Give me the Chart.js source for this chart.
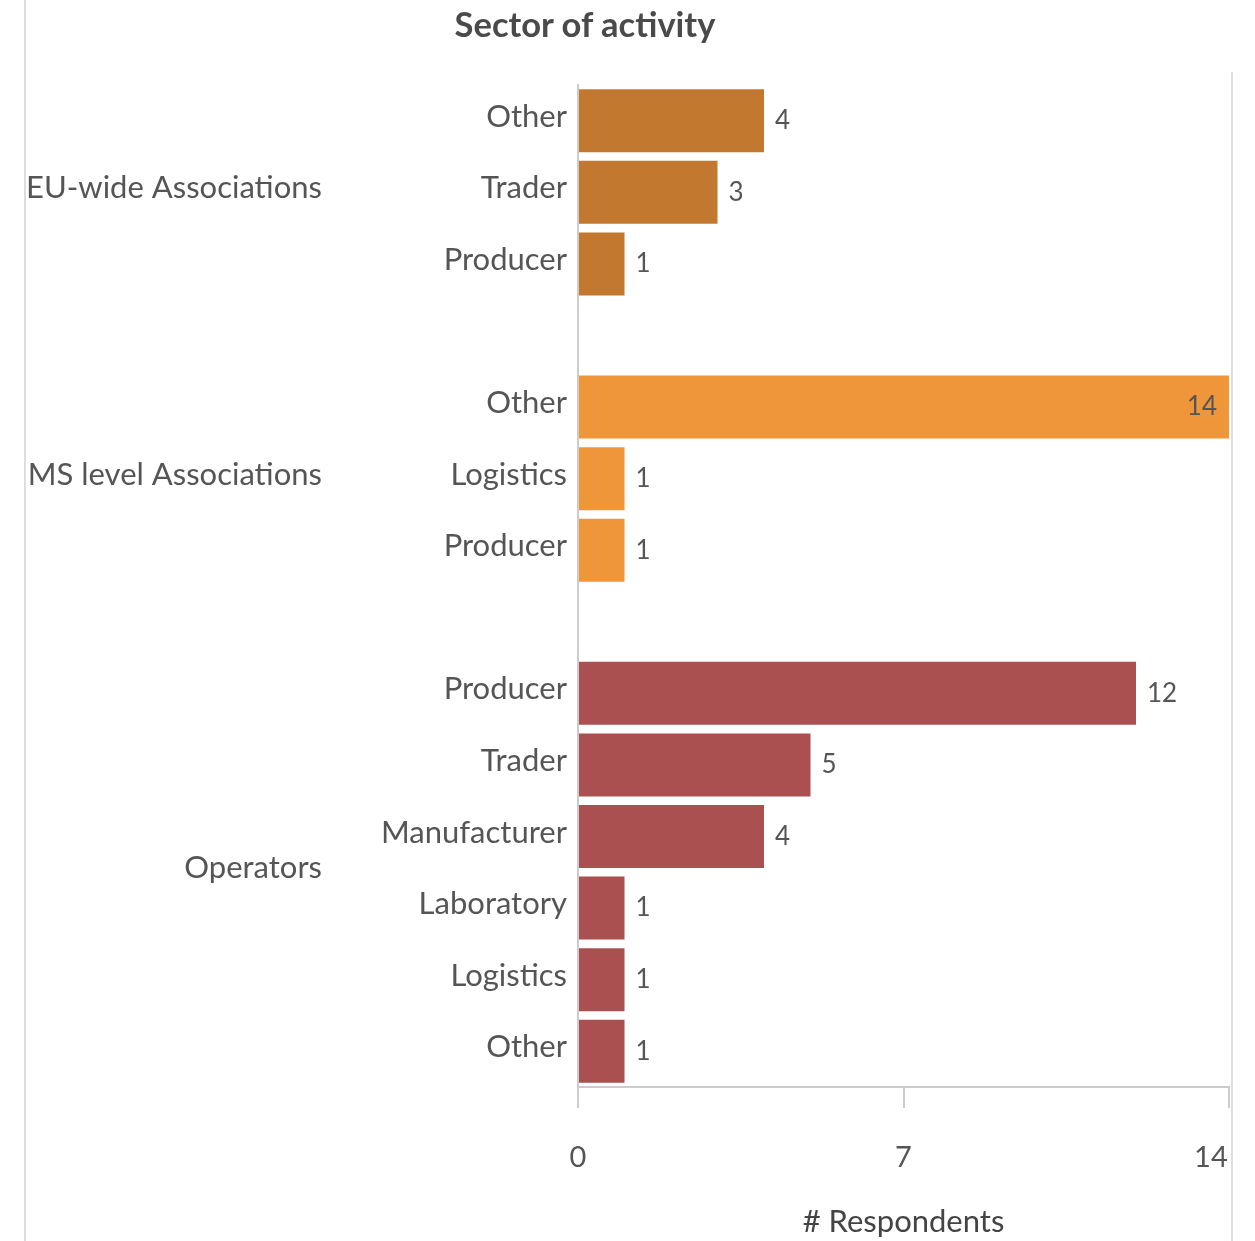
<!DOCTYPE html>
<html>
<head>
<meta charset="utf-8">
<script src="https://cdn.jsdelivr.net/npm/chart.js@4"></script>
<style>
  html, body { margin: 0; padding: 0; background: #fff; }
  #wrap { position: relative; width: 1255px; height: 1241px; }
  #title {
    position: absolute; left: 435px; top: 3px; width: 300px; text-align: center;
    font-family: Lato, sans-serif; font-weight: bold; font-size: 34.5px; color: #4a4a4a;
    white-space: nowrap;
  }
  .edge { position: absolute; background: #ddd; width: 2px; }
</style>
</head>
<body>
<div id="wrap">
  <div class="edge" style="left:24px; top:0; height:1241px;"></div>
  <div class="edge" style="left:1231px; top:72px; height:1169px;"></div>
  <div id="title">Sector of activity</div>
  <canvas id="sectorChart" width="1255" height="1241"></canvas>
</div>
<script>
// Rows top to bottom, '' marks the spacer between groups
const categories = ['Other', 'Trader', 'Producer', '',
                    'Other', 'Logistics', 'Producer', '',
                    'Producer', 'Trader', 'Manufacturer', 'Laboratory', 'Logistics', 'Other'];
const respondents = [4, 3, 1, null,
                     14, 1, 1, null,
                     12, 5, 4, 1, 1, 1];
const groupNames = ['EU-wide Associations', 'MS level Associations', 'Operators'];
const groupRows = [[0, 2], [4, 6], [8, 13]];
const groupColors = ['#C2782E', '#F0963A', '#AA5050'];
const xTicks = [0, 7, 14];

const FONT = 'Lato, sans-serif';
const TEXT = '#555';
const AXIS = '#cccccc';

// colour each row by its group
const barColors = categories.map((c, i) => {
    const g = groupRows.findIndex(r => i >= r[0] && i <= r[1]);
    return g >= 0 ? groupColors[g] : 'rgba(0,0,0,0)';
});

// Group names on the far left
const groupLabelPlugin = {
    id: 'groupLabels',
    afterDraw(chart) {
        const ctx = chart.ctx;
        const y = chart.scales.y;
        ctx.save();
        ctx.font = '31px ' + FONT;
        ctx.fillStyle = TEXT;
        ctx.textAlign = 'right';
        ctx.textBaseline = 'middle';
        groupNames.forEach((name, g) => {
            const mid = (y.getPixelForValue(groupRows[g][0]) + y.getPixelForValue(groupRows[g][1])) / 2;
            ctx.fillText(name, 322, mid - 4);
        });
        ctx.restore();
    }
};

// Value labels next to (or inside) each bar
const valueLabelPlugin = {
    id: 'valueLabels',
    afterDatasetsDraw(chart) {
        const ctx = chart.ctx;
        const meta = chart.getDatasetMeta(0);
        const x = chart.scales.x;
        ctx.save();
        ctx.font = '26px ' + FONT;
        ctx.fillStyle = TEXT;
        ctx.textBaseline = 'middle';
        meta.data.forEach((bar, i) => {
            const v = respondents[i];
            if (v == null) return;
            if (v >= x.max) {
                ctx.textAlign = 'right';
                ctx.fillText(String(v), bar.x - 12, bar.y);
            } else {
                ctx.textAlign = 'left';
                ctx.fillText(String(v), bar.x + 11, bar.y);
            }
        });
        ctx.restore();
    }
};

new Chart(document.getElementById('sectorChart'), {
    type: 'bar',
    data: {
        labels: categories,
        datasets: [{
            data: respondents,
            backgroundColor: barColors,
            borderWidth: 0,
            barPercentage: 0.88,
            categoryPercentage: 1
        }]
    },
    options: {
        indexAxis: 'y',
        responsive: false,
        animation: false,
        layout: { padding: { top: 85, right: 26, left: 0, bottom: 0 } },
        plugins: {
            legend: { display: false },
            tooltip: { enabled: false },
            title: { display: false }
        },
        scales: {
            y: {
                afterFit(scale) { scale.width = 578; },
                grid: { display: false },
                border: { display: true, color: AXIS, width: 2 },
                ticks: { color: TEXT, padding: 3, labelOffset: -4, font: { family: FONT, size: 31 } }
            },
            x: {
                min: 0,
                max: 14,
                afterFit(scale) {
                    scale.height = 154;
                    scale.paddingLeft = 0;
                    scale.paddingRight = 0;
                },
                afterBuildTicks(scale) { scale.ticks = xTicks.map(v => ({ value: v })); },
                grid: { drawOnChartArea: false, drawTicks: true, tickLength: 21, color: AXIS, lineWidth: 2 },
                border: { display: true, color: AXIS, width: 2 },
                ticks: {
                    color: TEXT, padding: 32, font: { family: FONT, size: 29 },
                    // last label sits flush with the plot edge, as in the original
                    callback: (v) => v === xTicks[xTicks.length - 1] ? v + '\u2003\u2002' : String(v)
                },
                title: {
                    display: true,
                    text: '# Respondents',
                    color: '#444',
                    padding: { top: 0, bottom: 0 },
                    font: { family: FONT, size: 31 }
                }
            }
        }
    },
    plugins: [groupLabelPlugin, valueLabelPlugin]
});
</script>
</body>
</html>
